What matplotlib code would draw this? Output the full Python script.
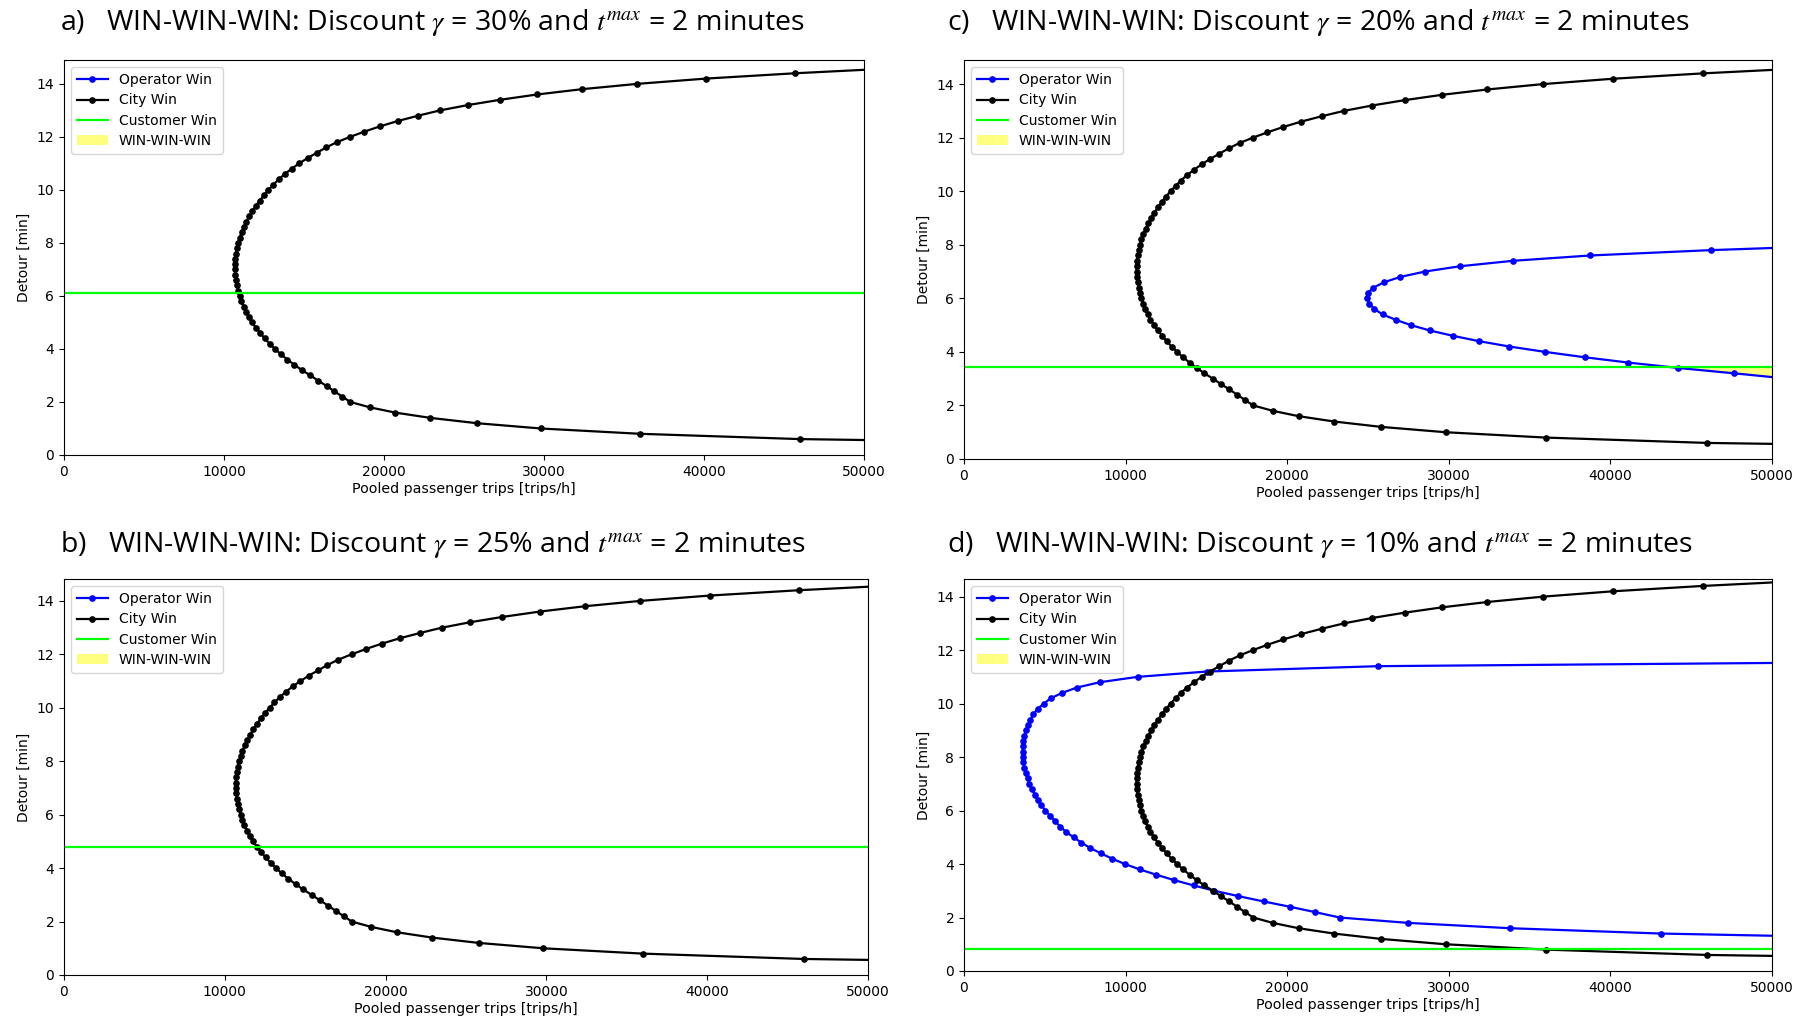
import matplotlib
matplotlib.use("Agg")
import matplotlib.pyplot as plt
import numpy as np

# detour grid (min) and pooled trips (trips/h)
city_detour = [0.4, 0.6, 0.8, 1.0, 1.2, 1.4, 1.6, 1.8, 2.0, 2.2, 2.4, 2.6, 2.8, 3.0,
               3.2, 3.4, 3.6, 3.8, 4.0, 4.2, 4.4, 4.6, 4.8, 5.0, 5.2, 5.4, 5.6, 5.8,
               6.0, 6.2, 6.4, 6.6, 6.8, 7.0, 7.2, 7.4, 7.6, 7.8, 8.0, 8.2, 8.4, 8.6,
               8.8, 9.0, 9.2, 9.4, 9.6, 9.8, 10.0, 10.2, 10.4, 10.6, 10.8, 11.0, 11.2,
               11.4, 11.6, 11.8, 12.0, 12.2, 12.4, 12.6, 12.8, 13.0, 13.2, 13.4, 13.6,
               13.8, 14.0, 14.2, 14.4, 14.6]
city_trips = [69000, 46000, 36000, 29800, 25800, 22900, 20700, 19100, 17900, 17400,
              16900, 16420, 15900, 15400, 14880, 14400, 13960, 13550, 13190, 12850,
              12540, 12260, 12000, 11750, 11540, 11370, 11220, 11090, 10980, 10890,
              10810, 10750, 10700, 10680, 10680, 10700, 10740, 10800, 10880, 10980,
              11100, 11240, 11400, 11580, 11780, 12000, 12240, 12500, 12780, 13090,
              13420, 13800, 14230, 14700, 15220, 15800, 16380, 17050, 17880, 18780,
              19760, 20870, 22140, 23510, 25240, 27260, 29580, 32390, 35830, 40150,
              45710, 52300]

# operator win, discount 20 %
op20_detour = [3.0, 3.2, 3.4, 3.6, 3.8, 4.0, 4.2, 4.4, 4.6, 4.8, 5.0, 5.2, 5.4, 5.6,
               5.8, 6.0, 6.2, 6.4, 6.6, 6.8, 7.0, 7.2, 7.4, 7.6, 7.8, 8.0]
op20_trips = [51000, 47650, 44200, 41120, 38400, 35960, 33750, 31870, 30260, 28820,
              27650, 26710, 25900, 25400, 25070, 24930, 25000, 25340, 25990, 27010,
              28520, 30720, 33950, 38750, 46220, 55700]

# operator win, discount 10 %
op10_detour = [1.2, 1.4, 1.6, 1.8, 2.0, 2.2, 2.4, 2.6, 2.8, 3.0, 3.2, 3.4, 3.6, 3.8,
               4.0, 4.2, 4.4, 4.6, 4.8, 5.0, 5.2, 5.4, 5.6, 5.8, 6.0, 6.2, 6.4, 6.6,
               6.8, 7.0, 7.2, 7.4, 7.6, 7.8, 8.0, 8.2, 8.4, 8.6, 8.8, 9.0, 9.2, 9.4,
               9.6, 9.8, 10.0, 10.2, 10.4, 10.6, 10.8, 11.0, 11.2, 11.4, 11.6]
op10_trips = [60000, 43150, 33790, 27470, 23250, 21740, 20190, 18550, 16980, 15500,
              14210, 13000, 11900, 10870, 9960, 9170, 8470, 7810, 7270, 6780, 6320,
              5950, 5640, 5330, 5040, 4790, 4570, 4380, 4190, 4050, 3930, 3820, 3740,
              3680, 3640, 3630, 3640, 3680, 3740, 3820, 3950, 4090, 4300, 4550, 4940,
              5370, 6070, 6980, 8410, 10740, 15040, 25640, 66200]

panels = ["a)", "b)", "c)", "d)"]
discounts = ["30%", "25%", "20%", "10%"]
customer_detour = [6.1, 4.8, 3.45, 0.83]
y_top = [14.9, 14.82, 14.9, 14.66]
operator = [None, None, (op20_trips, op20_detour), (op10_trips, op10_detour)]

W, H = 1798, 1025
# axes boxes in pixels: left, top, right, bottom
boxes = [(64, 60, 864, 455), (64, 579, 868, 975),
         (964, 60, 1772, 459), (964, 579, 1772, 971)]
title_xy = [(60, 22), (60, 544), (947, 22), (947, 544)]

plt.rcParams["mathtext.fontset"] = "stix"
fig = plt.figure(figsize=(W / 100, H / 100), dpi=100)

for i in range(4):
    l, t, r, b = boxes[i]
    ax = fig.add_axes([l / W, 1 - b / H, (r - l) / W, (b - t) / H])
    op = operator[i]
    if op is not None:
        ox, oy = np.array(op[0]), np.array(op[1])
    else:
        ox, oy = np.array([]), np.array([])
    ax.plot(ox, oy, color="blue", marker="o", ms=3.8, lw=1.6, label="Operator Win")
    ax.plot(city_trips, city_detour, color="black", marker="o", ms=3.8, lw=1.6,
            label="City Win")
    g = customer_detour[i]
    ax.axhline(g, color="lime", lw=1.6, label="Customer Win")
    if op is not None:
        ax.fill_between(ox, oy, g, where=oy < g, interpolate=True, color="yellow",
                        alpha=0.5, lw=0, label="WIN-WIN-WIN")
    else:
        ax.fill_between([], [], [], color="yellow", alpha=0.5, lw=0,
                        label="WIN-WIN-WIN")
    ax.set_xlim(0, 50000)
    ax.set_ylim(0, y_top[i])
    ax.set_yticks([0, 2, 4, 6, 8, 10, 12, 14])
    ax.set_xticks([0, 10000, 20000, 30000, 40000, 50000])
    ax.tick_params(labelsize=10)
    ax.set_xlabel("Pooled passenger trips [trips/h]", fontsize=10.3, labelpad=2)
    ax.set_ylabel("Detour [min]", fontsize=10, labelpad=4)
    ax.legend(loc="upper left", fontsize=10, handlelength=2.2, borderpad=0.45,
              labelspacing=0.45)

    tx, ty = title_xy[i]
    fig.text(tx / W, 1 - ty / H,
             panels[i] + "   WIN-WIN-WIN: Discount $\\gamma$ = " + discounts[i]
             + " and $t^{max}$ = 2 minutes",
             fontsize=20.5, va="center", ha="left",
             family=["Liberation Sans Narrow", "Open Sans", "DejaVu Sans"])

fig.savefig("out.png", dpi=100, facecolor="white")
